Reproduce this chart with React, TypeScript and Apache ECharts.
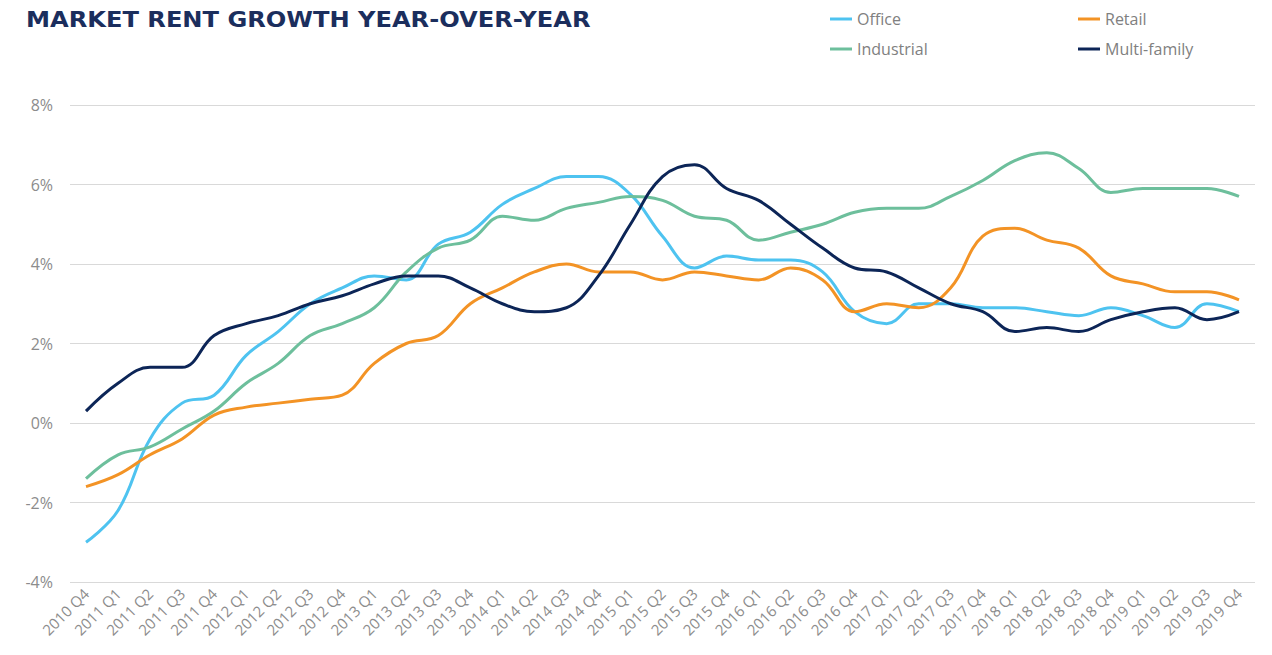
import React, { useEffect, useRef } from 'react';
import * as echarts from 'echarts';

const categories = [
  '2010 Q4',
  '2011 Q1', '2011 Q2', '2011 Q3', '2011 Q4',
  '2012 Q1', '2012 Q2', '2012 Q3', '2012 Q4',
  '2013 Q1', '2013 Q2', '2013 Q3', '2013 Q4',
  '2014 Q1', '2014 Q2', '2014 Q3', '2014 Q4',
  '2015 Q1', '2015 Q2', '2015 Q3', '2015 Q4',
  '2016 Q1', '2016 Q2', '2016 Q3', '2016 Q4',
  '2017 Q1', '2017 Q2', '2017 Q3', '2017 Q4',
  '2018 Q1', '2018 Q2', '2018 Q3', '2018 Q4',
  '2019 Q1', '2019 Q2', '2019 Q3', '2019 Q4',
];

const office = [-3.0, -2.2, -0.4, 0.5, 0.7, 1.7, 2.3, 3.0, 3.4, 3.7, 3.6, 4.5, 4.8, 5.5, 5.9, 6.2, 6.2, 5.75, 4.7, 3.9, 4.2, 4.1, 4.1, 3.8, 2.8, 2.5, 3.0, 3.0, 2.9, 2.9, 2.8, 2.7, 2.9, 2.7, 2.4, 3.0, 2.8];
const industrial = [-1.4, -0.8, -0.6, -0.15, 0.3, 1.0, 1.5, 2.2, 2.5, 2.9, 3.8, 4.4, 4.6, 5.2, 5.1, 5.4, 5.55, 5.7, 5.6, 5.2, 5.1, 4.6, 4.8, 5.0, 5.3, 5.4, 5.4, 5.7, 6.1, 6.6, 6.8, 6.4, 5.8, 5.9, 5.9, 5.9, 5.7];
const retail = [-1.6, -1.3, -0.8, -0.4, 0.2, 0.4, 0.5, 0.6, 0.7, 1.5, 2.0, 2.2, 3.0, 3.4, 3.8, 4.0, 3.8, 3.8, 3.6, 3.8, 3.7, 3.6, 3.9, 3.6, 2.8, 3.0, 2.9, 3.4, 4.7, 4.9, 4.6, 4.4, 3.7, 3.5, 3.3, 3.3, 3.1];
const multiFamily = [0.3, 1.0, 1.4, 1.4, 2.2, 2.5, 2.7, 3.0, 3.2, 3.5, 3.7, 3.7, 3.4, 3.0, 2.8, 2.9, 3.7, 5.0, 6.2, 6.5, 5.9, 5.6, 5.0, 4.4, 3.9, 3.8, 3.4, 3.0, 2.8, 2.3, 2.4, 2.3, 2.6, 2.8, 2.9, 2.6, 2.8];

const yTicks = { min: -4, max: 8, interval: 2 };

const titleText = 'MARKET RENT GROWTH YEAR-OVER-YEAR';

const COLORS = {
  office: '#4ec3f0',
  industrial: '#6dbf9c',
  retail: '#f39325',
  multi: '#0c2557',
};

const FONT = '"Open Sans", "Noto Sans", sans-serif';

export default function App() {
  const ref = useRef<HTMLDivElement>(null);

  useEffect(() => {
    if (!ref.current) return;
    const chart = echarts.init(ref.current, null, { renderer: 'svg' });

    const mkSeries = (name: string, data: number[], color: string) => ({
      name,
      type: 'line',
      data,
      smooth: 0.4,
      symbol: 'none',
      lineStyle: { width: 3, color },
      itemStyle: { color },
    });

    const legendText = { color: '#808080', fontSize: 16, fontFamily: FONT, lineHeight: 20 };

    chart.setOption({
      animation: false,
      backgroundColor: '#ffffff',
      graphic: [
        {
          type: 'text',
          left: 26,
          top: 9,
          scaleX: 1.15,
          style: {
            text: titleText,
            fill: '#1b2e5d',
            font: 'bold 21px "DejaVu Sans", sans-serif',
          },
        },
      ],
      legend: [
        {
          left: 825,
          top: 4,
          orient: 'vertical',
          data: ['Office', 'Industrial'],
          icon: 'rect',
          itemWidth: 22,
          itemHeight: 3,
          itemGap: 10,
          textStyle: legendText,
        },
        {
          left: 1073,
          top: 4,
          orient: 'vertical',
          data: ['Retail', 'Multi-family'],
          icon: 'rect',
          itemWidth: 22,
          itemHeight: 3,
          itemGap: 10,
          textStyle: legendText,
        },
      ],
      grid: { left: 70, right: 17, top: 105, bottom: 73, containLabel: false },
      xAxis: {
        type: 'category',
        data: categories,
        boundaryGap: true,
        axisLine: { show: false },
        axisTick: { show: false },
        axisLabel: {
          interval: 0,
          rotate: 45,
          margin: 9,
          color: '#8c8c8c',
          fontSize: 15,
          fontFamily: FONT,
        },
      },
      yAxis: {
        type: 'value',
        min: yTicks.min,
        max: yTicks.max,
        interval: yTicks.interval,
        axisLine: { show: false },
        axisTick: { show: false },
        axisLabel: {
          formatter: '{value}%',
          color: '#8c8c8c',
          fontSize: 16,
          fontFamily: FONT,
          margin: 17,
        },
        splitLine: { lineStyle: { color: '#d9d9d9', width: 1 } },
      },
      series: [
        mkSeries('Office', office, COLORS.office),
        mkSeries('Industrial', industrial, COLORS.industrial),
        mkSeries('Retail', retail, COLORS.retail),
        mkSeries('Multi-family', multiFamily, COLORS.multi),
      ],
    });

    return () => chart.dispose();
  }, []);

  return (
    <div
      ref={ref}
      style={{ position: 'fixed', left: 0, top: 0, width: 1272, height: 655, background: '#fff' }}
    />
  );
}
